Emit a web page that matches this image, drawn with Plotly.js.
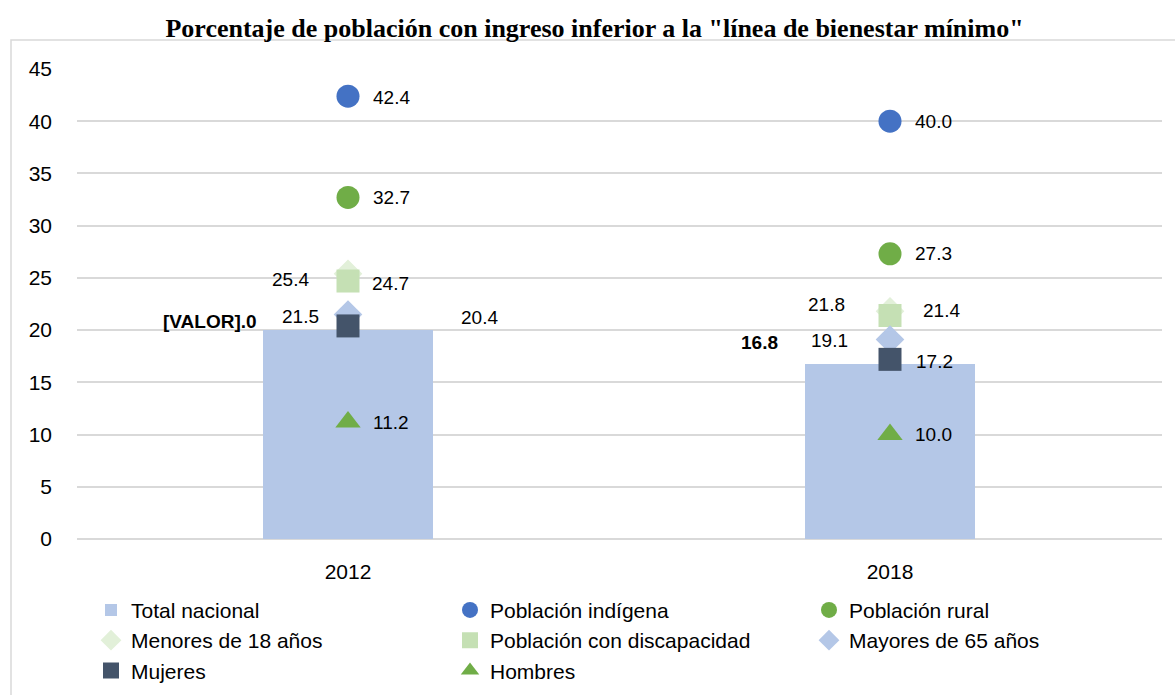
<!DOCTYPE html>
<html>
<head>
<meta charset="utf-8">
<script src="https://cdn.plot.ly/plotly-3.0.1.min.js"></script>
<style>html,body{margin:0;padding:0;background:#fff;}#chart{width:1175px;height:695px;}#err{position:absolute;left:0;top:0;color:red;font-size:14px;}</style>
</head>
<body>
<div id="chart"></div>
<div id="err"></div>
<script>
// ---- data ----
const years = ["2012", "2018"];
const totalNacional = [20.0, 16.8];
const totalLabels = ["[VALOR].0", "16.8"];
const poblacionIndigena = [42.4, 40.0];
const poblacionRural = [32.7, 27.3];
const menores18 = [25.4, 21.8];
const discapacidad = [24.7, 21.4];
const mayores65 = [21.5, 19.1];
const mujeres = [20.4, 17.2];
const hombres = [11.2, 10.0];
const yTicks = [0, 5, 10, 15, 20, 25, 30, 35, 40, 45];

try {
// ---- styles ----
const lblFont = {family: "Liberation Sans Narrow, Arial Narrow, Liberation Sans, Arial", size: 19, color: "#000000"};
const series = [
  {name: "Población indígena", y: poblacionIndigena, symbol: "circle", size: 23, color: "#4472c4", off: [[43,-1],[43,0]]},
  {name: "Población rural", y: poblacionRural, symbol: "circle", size: 23, color: "#70ad47", off: [[43,0],[43,0]]},
  {name: "Menores de 18 años", y: menores18, symbol: "diamond", size: 22, color: "#e2f0d9", off: [[-58,-6],[-64,7]]},
  {name: "Población con discapacidad", y: discapacidad, symbol: "square", size: 23, color: "#c5e0b4", off: [[42,-2],[51,5]]},
  {name: "Mayores de 65 años", y: mayores65, symbol: "diamond", size: 22, color: "#b4c7e7", off: [[-48,-2],[-61,-1]]},
  {name: "Mujeres", y: mujeres, symbol: "square", size: 23, color: "#44546a", off: [[131,8],[44,-2]]},
  {name: "Hombres", y: hombres, symbol: "triangle-up", size: 22, color: "#70ad47", off: [[43,0],[43,0]]}
];
const totalOff = [[-138, 9], [-131, 21]];

const traces = [{
  type: "bar", name: "Total nacional", x: years, y: totalNacional,
  width: 0.314, marker: {color: "#b4c7e7"}
}];
series.forEach(s => traces.push({
  type: "scatter", mode: "markers", name: s.name, x: years, y: s.y,
  marker: {symbol: s.symbol, size: s.size, color: s.color, line: {width: 0}}
}));

const anns = [];
for (let i = 0; i < years.length; i++) {
  anns.push({x: i, y: totalNacional[i], xref: "x", yref: "y", text: "<b>" + totalLabels[i] + "</b>",
    showarrow: false, xanchor: "center", yanchor: "middle", xshift: totalOff[i][0], yshift: totalOff[i][1], font: Object.assign({}, lblFont)});
  series.forEach(s => anns.push({x: i, y: s.y[i], xref: "x", yref: "y", text: s.y[i].toFixed(1),
    showarrow: false, xanchor: "center", yanchor: "middle", xshift: s.off[i][0], yshift: s.off[i][1], font: Object.assign({}, lblFont)}));
}

// plot area spans x 77..1175 px; the visible grid ends at 1161 px
const plotW = 1098;
const layout = {
  width: 1175, height: 695,
  margin: {l: 77, r: 0, t: 69, b: 156},
  paper_bgcolor: "#ffffff", plot_bgcolor: "#ffffff",
  font: {family: "Liberation Sans, Arial, sans-serif", size: 21, color: "#000000"},
  title: {text: "<b>Porcentaje de población con ingreso inferior a la \"línea de bienestar mínimo\"</b>",
    font: {family: "Liberation Serif, Times New Roman, serif", size: 26, color: "#000000"},
    x: 0.506, xref: "container", xanchor: "center", y: 0.96, yref: "container", yanchor: "middle"},
  xaxis: {type: "category", range: [-0.5, -0.5 + plotW / 542], showgrid: false, zeroline: false, showline: false,
    ticks: "", tickfont: {size: 21}, ticklabelstandoff: 18},
  yaxis: {range: [0, 45], tickvals: yTicks, showgrid: true, gridcolor: "#d9d9d9", gridwidth: 1.5,
    zeroline: true, zerolinecolor: "#d9d9d9", zerolinewidth: 1.5, showline: false, ticks: "",
    tickfont: {size: 21}, ticklabelstandoff: 24},
  showlegend: true,
  legend: {orientation: "h", x: 14 / plotW, xanchor: "left", y: -0.108, yanchor: "top",
    entrywidth: 314, entrywidthmode: "pixels", font: {size: 21}, traceorder: "normal",
    tracegroupgap: 0, bgcolor: "rgba(0,0,0,0)"},
  annotations: anns,
  shapes: [
    {type: "rect", xref: "paper", yref: "paper", x0: -66 / plotW, x1: 1.02, y0: -0.35, y1: 1.0617,
      line: {color: "#d9d9d9", width: 1.5}, fillcolor: "rgba(0,0,0,0)", layer: "below"},
    {type: "rect", xref: "paper", yref: "paper", x0: 1085 / plotW, x1: 1.01, y0: -0.01, y1: 1.01,
      line: {width: 0}, fillcolor: "#ffffff", layer: "above"}
  ],
  bargap: 0
};

Plotly.newPlot("chart", traces, layout, {displayModeBar: false}).catch(e => {document.getElementById("err").textContent = String(e);});
} catch (e) { document.getElementById("err").textContent = String(e); }
</script>
</body>
</html>
